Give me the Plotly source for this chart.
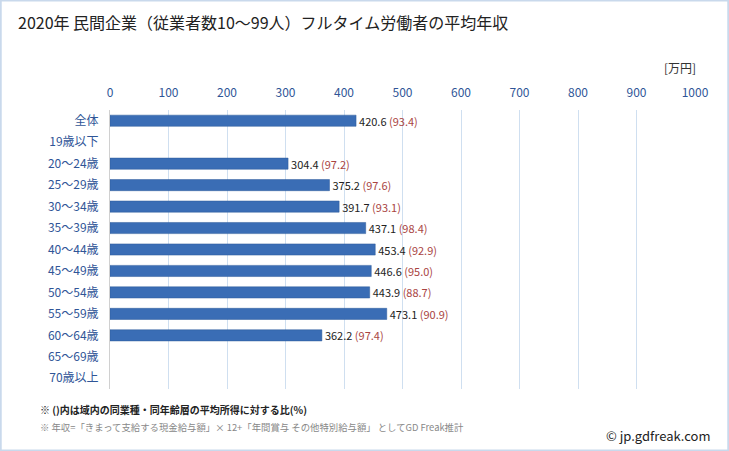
import plotly.graph_objects as go

categories = ["全体", "19歳以下", "20〜24歳", "25〜29歳", "30〜34歳", "35〜39歳", "40〜44歳",
              "45〜49歳", "50〜54歳", "55〜59歳", "60〜64歳", "65〜69歳", "70歳以上"]
values = [420.6, None, 304.4, 375.2, 391.7, 437.1, 453.4, 446.6, 443.9, 473.1, 362.2, None, None]
ratios = [93.4, None, 97.2, 97.6, 93.1, 98.4, 92.9, 95.0, 88.7, 90.9, 97.4, None, None]
tick_vals = [0, 100, 200, 300, 400, 500, 600, 700, 800, 900, 1000]

W, H = 729, 451
FONT = "Noto Sans CJK JP"

texts = []
for v, r in zip(values, ratios):
    if v is None:
        texts.append("")
    else:
        texts.append(f"{v:.1f} <span style='color:#a94442'>({r:.1f})</span>")

fig = go.Figure()
fig.add_trace(go.Bar(
    y=categories, x=values, orientation="h",
    marker=dict(color="#3a6db5", line=dict(color="#2d5a9a", width=0.5)),
    width=0.52,
    text=texts, textposition="outside", cliponaxis=False, constraintext="none",
    textfont=dict(family=FONT, size=11, color="#222222"),
    hoverinfo="skip",
))

fig.update_layout(
    width=W, height=H,
    margin=dict(l=0, r=0, t=0, b=0, autoexpand=False),
    paper_bgcolor="white", plot_bgcolor="white",
    showlegend=False,
    font=dict(family=FONT),
    xaxis=dict(
        domain=[110 / W, 695 / W], range=[0, 1000], side="top", automargin=False,
        tickvals=tick_vals, ticktext=[str(t) for t in tick_vals],
        tickfont=dict(family=FONT, size=12, color="#2f5597"),
        showgrid=True, gridcolor="#cfdff0", gridwidth=1,
        zeroline=False, showline=False, ticks="", ticklen=0, ticklabelstandoff=10,
    ),
    yaxis=dict(
        domain=[1 - 389 / H, 1 - 110 / H], automargin=False,
        categoryorder="array", categoryarray=categories[::-1],
        tickfont=dict(family=FONT, size=12, color="#2f5597"),
        showgrid=False, zeroline=False, showline=True, linecolor="#d0d0d0", linewidth=1,
        ticks="", ticklabelstandoff=8,
    ),
    shapes=[dict(type="rect", xref="paper", yref="paper", x0=0.001, y0=0.001, x1=0.999, y1=0.999,
                 line=dict(color="#c9d9ec", width=2), fillcolor="rgba(0,0,0,0)")],
    annotations=[
        dict(text="2020年 民間企業（従業者数10〜99人）フルタイム労働者の平均年収", x=16 / W, y=1 - 22 / H,
             xref="paper", yref="paper", xanchor="left", yanchor="middle", showarrow=False,
             font=dict(family=FONT, size=16, color="#222222")),
        dict(text="[万円]", x=698 / W, y=1 - 67 / H, xref="paper", yref="paper",
             xanchor="right", yanchor="middle", showarrow=False,
             font=dict(family=FONT, size=12, color="#333333")),
        dict(text="<b>※ ()内は域内の同業種・同年齢層の平均所得に対する比(%)</b>", x=38 / W, y=1 - 409 / H,
             xref="paper", yref="paper", xanchor="left", yanchor="middle", showarrow=False,
             font=dict(family=FONT, size=10, color="#222222")),
        dict(text="※ 年収=「きまって支給する現金給与額」× 12+「年間賞与 その他特別給与額」 としてGD Freak推計",
             x=38 / W, y=1 - 427 / H, xref="paper", yref="paper", xanchor="left", yanchor="middle",
             showarrow=False, font=dict(family=FONT, size=9.4, color="#888888")),
        dict(text="© jp.gdfreak.com", x=713 / W, y=1 - 435 / H, xref="paper", yref="paper",
             xanchor="right", yanchor="middle", showarrow=False,
             font=dict(family=FONT, size=13, color="#222222")),
    ],
)

fig.write_html("out.html", config={"displayModeBar": False},
               post_script="document.body.style.margin='0';document.body.style.overflow='hidden';")
